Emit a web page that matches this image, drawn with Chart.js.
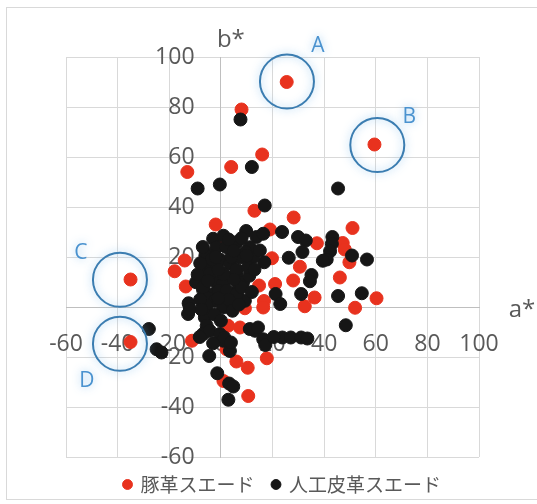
<!DOCTYPE html>
<html>
<head>
<meta charset="utf-8">
<script src="https://cdn.jsdelivr.net/npm/chart.js@4.4.1/dist/chart.umd.min.js"></script>
<style>
  html, body { margin: 0; padding: 0; background: #fff; }
</style>
</head>
<body>
<canvas id="grafico" width="537" height="504"></canvas>
<script>
const seriesNames = ['豚革スエード', '人工皮革スエード'];
const axisTicks = [-60, -40, -20, 0, 20, 40, 60, 80, 100];

// 豚革スエード (a*, b*)
const pigA = [25.5, 59.5, -35, -35, 8, 16, 4, -13, 13, 28.2, 51, -2, 19, 1.5, 37.2, 47.2, 48, 49.8, 30.6, 19.8,
  28, 46.1, 14.8, 21, 16.7, 16.4, 36.3, 32.5, 52, 60.3, 9.3, -17.9, -14, -13.6, -6.2, 2.8, 7.4, -11.2, 6, 10.4,
  1, 10.6, 17.8, 2.2];
const pigB = [90, 65, 11, -14, 79, 61, 56, 54, 38.5, 35.8, 31.6, 33, 31, 26.7, 25.5, 25.6, 23, 17.9, 16.1, 19.5,
  10.6, 11.8, 8.6, 9.2, 2.4, -0.2, 3.8, 0.3, -0.3, 3.5, -0.5, 14.3, 18.6, 8.2, -2.2, -7.5, -8.2, -13.5, -21.8, -24.3,
  -29.6, -35.6, -20.5, -16.9];

// 人工皮革スエード (a*, b*)
const synA = [7.6, 12, -9, -0.4, 17, 45.4, 23.7, 29.9, 32.9, 43.2,
  43, 42.3, 41, 39.5, 50.8, 56.6, 26.3, 31.6, 35.1, 34.5,
  16.8, 12.5, 21.2, 23, 31.1, 45.4, 54.6, 48.4, 9.8, 13.8,
  6.1, 11.2, 15.1, 16.4, -3, -1.7, -5.5, -4.3, -6.2, -0.4,
  3.5, 2.2, 6.1, 8.6, -1.7, -9.6, -6.9, 7.4, 0.9, 6.7,
  -3, -4.3, 9.3, -12.5, -12.7, -12, -6.9, -4.8, -2.3, -5.5,
  -0.8, 2.2, 6.1, 8, 0.9, -6.2, -5.5, -6.9, -4.3, -0.4,
  0.9, 3.5, -4.5, -1.4, 3.2, 4.8, 2.9, 13.2, 16.4, 11.2,
  14.4, 17.2, 23.8, 27.1, 31.1, 33.5, 20.5, -27.9, -24.9, -23,
  -8.2, 1.3, 3.9, -6, 6, 5, 4, 1, -1, 3,
  4.5, -2.5, 0, 11, 12, 10.5, -8, -9, 2, 8,
  -3.5, 1, -7.5, -3, 9.5, -7, -2, 3, 10, 13,
  -5, -8, 7, -1, 5];
const synB = [75, 56, 47.4, 49, 40.6, 47.4, 30, 28, 26.6, 28,
  25.3, 22.3, 19, 18.5, 20.6, 19, 19.7, 22, 12.8, 10.3,
  17.9, 19.9, 5.2, 1.2, 5.2, 4.4, 5.5, -7.3, 30.4, 28,
  25.9, 23.9, 22.6, 29.3, 27.3, 23.9, 21.3, 15.9, 15, 19,
  17.3, 11.9, 13.3, 9.9, 9.9, 9.9, 6.8, 19.9, 9.2, 7.2,
  5.2, 13.3, 2.5, 1.5, -2.8, -0.8, 7.9, 3.5, 2.5, 0.5,
  6.5, 6.5, 5.2, 7.9, -0.2, -4.2, -7.5, -10.8, -9.5, -10.8,
  -13.5, -17.6, -19.6, -26.5, -30.6, -31.8, -37.1, -9.5, -12.9, -8.8,
  -8.2, -15.2, -12.2, -12.2, -12.2, -12.6, -12, -8.8, -16.9, -18.2,
  -12, -12.2, -14.2, 20.6, 15, 11, 20, 13, 15, 3,
  -1.5, -3, -5.5, 12.5, 6, 16, 3, 13, 24, 27.5,
  19, 28.5, -1, -14.5, 22, 24, 20, 27, 20.5, 15,
  10.5, 17.5, 1, 3.5, 22.5];

// circled groups
const markNames = ['A', 'B', 'C', 'D'];
const markA = [25.6, 60.6, -39.1, -39.1];
const markB = [90.2, 64.8, 10.9, -14.7];

const tickFont = { family: '"Open Sans", "Noto Sans"', size: 23 };
const grey = '#595959';

function toPoints(xs, ys) {
    return xs.map((v, i) => ({ x: v, y: ys[i] }));
}

const marks = {
    id: 'marks',
    afterLayout(chart) {
        // legend sits a little right of centre in the original
        chart.legend.left += 10;
        chart.legend.right += 10;
    },
    beforeDraw(chart) {
        const ctx = chart.ctx;
        ctx.save();
        ctx.fillStyle = '#fff';
        ctx.fillRect(0, 0, chart.width, chart.height);
        ctx.strokeStyle = '#d9d9d9';
        ctx.lineWidth = 1;
        ctx.strokeRect(6.5, 7.5, 540, 492);
        ctx.restore();
    },
    afterDatasetsDraw(chart) {
        const { ctx, chartArea, scales: { x, y } } = chart;
        const offs = [[31, -35], [32, -28], [-39, -27], [-33, 37]];
        ctx.save();
        ctx.textAlign = 'center';
        ctx.textBaseline = 'middle';
        markNames.forEach((name, i) => {
            const cx = x.getPixelForValue(markA[i]);
            const cy = y.getPixelForValue(markB[i]);
            ctx.shadowColor = 'rgba(120,185,235,0.8)';
            ctx.shadowBlur = 8;
            ctx.strokeStyle = '#3b7db1';
            ctx.lineWidth = 2;
            ctx.beginPath();
            ctx.arc(cx, cy, 27, 0, Math.PI * 2);
            ctx.stroke();
            ctx.fillStyle = '#4a92cf';
            ctx.font = '21px "Open Sans"';
            ctx.fillText(name, cx + offs[i][0], cy + offs[i][1]);
        });
        ctx.shadowBlur = 0;
        ctx.fillStyle = grey;
        ctx.font = '24px "Open Sans"';
        ctx.fillText('b*', x.getPixelForValue(0) + 10, chartArea.top - 17);
        ctx.fillText('a*', chartArea.right + 43, y.getPixelForValue(0) + 3);
        ctx.restore();
    }
};

new Chart(document.getElementById('grafico'), {
    type: 'scatter',
    data: {
        datasets: [{
            label: seriesNames[0],
            data: toPoints(pigA, pigB),
            backgroundColor: '#e8321e',
            borderColor: '#e8321e',
            borderWidth: 1,
            pointRadius: 6.5,
            order: 1
        }, {
            label: seriesNames[1],
            data: toPoints(synA, synB),
            backgroundColor: '#161616',
            borderColor: '#161616',
            borderWidth: 1,
            pointRadius: 6.5,
            order: 0
        }]
    },
    options: {
        responsive: false,
        animation: false,
        layout: { padding: { left: 66, right: 58, top: 57, bottom: 0 } },
        scales: {
            x: {
                type: 'linear',
                position: { y: 0 },
                min: axisTicks[0],
                max: axisTicks[axisTicks.length - 1],
                afterBuildTicks: s => { s.ticks = axisTicks.map(v => ({ value: v })); },
                afterFit: s => { s.height = 0; },
                ticks: { color: grey, font: tickFont, padding: 24, maxRotation: 0, autoSkip: false },
                grid: { color: '#d9d9d9', drawTicks: false },
                border: { color: '#bfbfbf' }
            },
            y: {
                type: 'linear',
                position: { x: 0 },
                min: axisTicks[0],
                max: axisTicks[axisTicks.length - 1],
                afterBuildTicks: s => { s.ticks = axisTicks.map(v => ({ value: v })); },
                afterFit: s => { s.width = 0; },
                // labels of a value-positioned axis sit right against it, so pad with figure spaces
                ticks: { color: grey, font: tickFont, autoSkip: false, callback: v => v + '\u2007\u2007' },
                grid: { color: '#d9d9d9', drawTicks: false },
                border: { color: '#bfbfbf' }
            }
        },
        plugins: {
            tooltip: { enabled: false },
            legend: {
                position: 'bottom',
                labels: {
                    usePointStyle: true,
                    pointStyle: 'circle',
                    boxWidth: 7,
                    boxHeight: 7,
                    padding: 18,
                    color: grey,
                    font: { family: '"Noto Sans CJK JP"', size: 19 },
                    sort: (a, b) => a.datasetIndex - b.datasetIndex
                }
            }
        }
    },
    plugins: [marks]
});
</script>
</body>
</html>
